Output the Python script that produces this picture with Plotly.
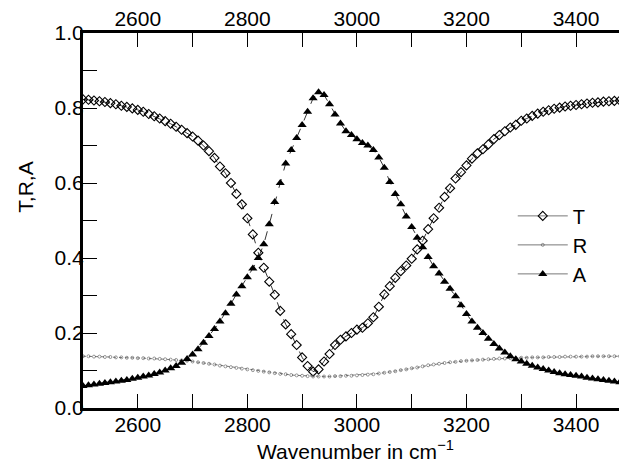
import plotly.graph_objects as go

wavenumber = list(range(2500, 3501, 10))

T = [0.823, 0.822, 0.820, 0.818, 0.816, 0.813, 0.810, 0.806, 0.803, 0.799,
     0.795, 0.790, 0.784, 0.778, 0.772, 0.765, 0.758, 0.750, 0.742, 0.733,
     0.724, 0.713, 0.700, 0.685, 0.667, 0.644, 0.626, 0.600, 0.571, 0.543,
     0.506, 0.463, 0.414, 0.374, 0.337, 0.302, 0.259, 0.223, 0.197, 0.168,
     0.135, 0.112, 0.097, 0.103, 0.124, 0.144, 0.168, 0.182, 0.191, 0.200,
     0.209, 0.214, 0.226, 0.242, 0.270, 0.303, 0.325, 0.347, 0.365, 0.380,
     0.398, 0.423, 0.446, 0.477, 0.506, 0.534, 0.563, 0.586, 0.612, 0.629,
     0.647, 0.665, 0.679, 0.690, 0.703, 0.717, 0.728, 0.738, 0.748, 0.755,
     0.766, 0.772, 0.779, 0.785, 0.790, 0.794, 0.798, 0.801, 0.804, 0.806,
     0.808, 0.810, 0.812, 0.814, 0.815, 0.817, 0.818, 0.819, 0.820, 0.821,
     0.822]

R = [0.138, 0.138, 0.137, 0.137, 0.136, 0.136, 0.135, 0.135, 0.134, 0.134,
     0.133, 0.133, 0.132, 0.132, 0.131, 0.130, 0.129, 0.128, 0.127, 0.126,
     0.124, 0.122, 0.120, 0.118, 0.116, 0.113, 0.111, 0.109, 0.107, 0.105,
     0.103, 0.101, 0.099, 0.097, 0.095, 0.093, 0.091, 0.090, 0.088, 0.087,
     0.086, 0.085, 0.084, 0.084, 0.084, 0.084, 0.085, 0.085, 0.086, 0.086,
     0.087, 0.088, 0.089, 0.090, 0.092, 0.094, 0.096, 0.098, 0.101, 0.103,
     0.106, 0.108, 0.111, 0.114, 0.116, 0.118, 0.120, 0.122, 0.123, 0.125,
     0.126, 0.127, 0.128, 0.129, 0.130, 0.131, 0.132, 0.132, 0.133, 0.133,
     0.134, 0.134, 0.135, 0.135, 0.135, 0.136, 0.136, 0.136, 0.137, 0.137,
     0.137, 0.137, 0.137, 0.138, 0.138, 0.138, 0.138, 0.138, 0.138, 0.138,
     0.138]

A = [0.059, 0.061, 0.063, 0.065, 0.067, 0.069, 0.071, 0.073, 0.075, 0.078,
     0.081, 0.084, 0.087, 0.091, 0.095, 0.100, 0.106, 0.112, 0.121, 0.131,
     0.143, 0.157, 0.174, 0.192, 0.211, 0.231, 0.253, 0.278, 0.303, 0.325,
     0.349, 0.372, 0.400, 0.437, 0.490, 0.549, 0.600, 0.652, 0.688, 0.720,
     0.755, 0.790, 0.826, 0.842, 0.835, 0.810, 0.783, 0.759, 0.738, 0.728,
     0.717, 0.707, 0.700, 0.688, 0.668, 0.641, 0.603, 0.571, 0.543, 0.511,
     0.483, 0.454, 0.429, 0.403, 0.378, 0.359, 0.337, 0.318, 0.298, 0.274,
     0.251, 0.231, 0.214, 0.200, 0.185, 0.171, 0.159, 0.148, 0.138, 0.130,
     0.124, 0.118, 0.113, 0.108, 0.104, 0.100, 0.096, 0.093, 0.090, 0.088,
     0.086, 0.084, 0.081, 0.079, 0.077, 0.075, 0.073, 0.071, 0.069, 0.067,
     0.064]

series_names = ["T", "R", "A"]
x_tick_labels = [2600, 2800, 3000, 3200, 3400]
x_minor_ticks = list(range(2500, 3501, 100))
y_minor_ticks = [i / 10 for i in range(11)]
y_tick_labels = [0.0, 0.2, 0.4, 0.6, 0.8, 1.0]

FONT = "Liberation Sans, Arial, Helvetica, sans-serif"
XR = [2500, 3493]
YR = [0, 1.0]

x_text = [str(v) if v in x_tick_labels else "" for v in x_minor_ticks]
y_text = [("%.1f" % v) if any(abs(v - t) < 1e-9 for t in y_tick_labels) else "" for v in y_minor_ticks]

styles = {
    "T": dict(line=dict(color="black", width=0.8, dash="dash"),
              marker=dict(symbol="diamond-open", size=7, color="black",
                          line=dict(width=1.1, color="black"))),
    "R": dict(line=dict(color="#555", width=0.8, dash="dot"),
              marker=dict(symbol="circle-open", size=3, color="#555",
                          line=dict(width=0.6, color="#555"))),
    "A": dict(line=dict(color="black", width=0.8, dash="dash"),
              marker=dict(symbol="triangle-up", size=8, color="black")),
}
data = {"T": T, "R": R, "A": A}

fig = go.Figure()
for name in series_names:
    fig.add_trace(go.Scatter(x=wavenumber, y=data[name], name=name, mode="lines+markers",
                             showlegend=False, **styles[name]))
# legend entries (solid sample lines as in the reference)
for name in series_names:
    st = styles[name]
    fig.add_trace(go.Scatter(x=[None], y=[None], name=name, mode="lines+markers",
                             line=dict(color="#555", width=0.8),
                             marker=st["marker"]))
# invisible carrier for the top / right axes
fig.add_trace(go.Scatter(x=wavenumber, y=T, xaxis="x2", yaxis="y2", mode="lines",
                         line=dict(width=0), opacity=0, showlegend=False, hoverinfo="skip"))

common_x = dict(range=XR, showgrid=False, zeroline=False,
                showline=True, linewidth=3, linecolor="black",
                ticks="inside", ticklen=14, tickwidth=1, tickcolor="black",
                tickmode="array", tickvals=x_minor_ticks, ticktext=x_text,
                tickfont=dict(size=21), ticklabelstandoff=-4)

fig.update_layout(
    width=619, height=459,
    margin=dict(l=75, r=0, t=25, b=59),
    paper_bgcolor="white", plot_bgcolor="white",
    font=dict(family=FONT, size=21, color="black"),
    showlegend=True,
    legend=dict(x=0.79, y=0.435, xanchor="left", yanchor="middle",
                bgcolor="rgba(0,0,0,0)", font=dict(size=20), itemwidth=50,
                tracegroupgap=0),
    xaxis=common_x,
    xaxis2=dict(common_x, overlaying="x", side="top", anchor="y2"),
    yaxis=dict(range=YR, showgrid=False, zeroline=False,
               showline=True, linewidth=3, linecolor="black",
               ticks="inside", ticklen=14, tickwidth=1, tickcolor="black",
               tickmode="array", tickvals=y_minor_ticks, ticktext=y_text,
               tickfont=dict(size=21), ticklabelstandoff=-8),
    yaxis2=dict(range=YR, overlaying="y", side="right", anchor="x2",
                showgrid=False, zeroline=False, showline=False,
                ticks="inside", ticklen=8, tickwidth=1, tickcolor="black",
                tickmode="array", tickvals=y_minor_ticks, showticklabels=False),
    annotations=[
        dict(text="Wavenumber in cm<sup>−1</sup>", xref="paper", yref="paper",
             x=0.5, y=-0.112, xanchor="center", yanchor="middle",
             showarrow=False, font=dict(size=21)),
        dict(text="T,R,A", xref="paper", yref="paper", textangle=-90,
             x=-0.105, y=0.59, xanchor="center", yanchor="middle",
             showarrow=False, font=dict(size=21)),
    ],
)

fig.write_html("out.html")
